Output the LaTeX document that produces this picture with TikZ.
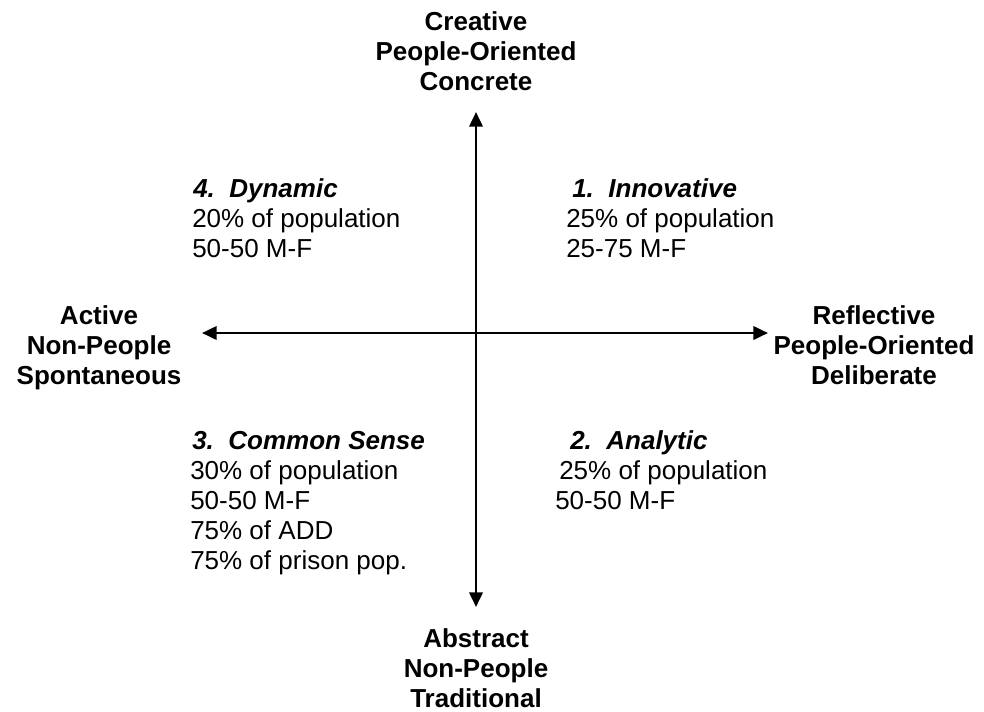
\documentclass[tikz,border=0pt]{standalone}
\usepackage{fontspec}
\setmainfont{Liberation Sans}
\usetikzlibrary{arrows.meta}
\tikzstyle{pole}=[align=center,anchor=base,inner sep=0pt,font=\bfseries\fontsize{19.5}{22.5}\selectfont]
\tikzstyle{quad title}=[anchor=base west,inner sep=0pt,font=\bfseries\itshape\fontsize{19.5}{22.5}\selectfont]
\tikzstyle{quad text}=[anchor=base west,align=left,inner sep=0pt,font=\fontsize{19.5}{22.5}\selectfont]
\tikzstyle{axis}=[line width=2pt,{Triangle[length=11pt,width=10pt]}-{Triangle[length=11pt,width=10pt]}]

\begin{document}
\begin{tikzpicture}[x=0.75pt,y=-0.75pt]
\useasboundingbox (0,0) rectangle (984,711);
% axis ends
\coordinate (n) at (476,112);
\coordinate (s) at (476,607);
\coordinate (w) at (202,333);
\coordinate (e) at (768,333);
\draw[axis] (s) -- (n);
\draw[axis] (w) -- (e);
% the four poles (base = last line)
\node[pole] (creative) at (476,90) {Creative\\People-Oriented\\Concrete};
\node[pole] (abstract) at (476,707) {Abstract\\Non-People\\Traditional};
\node[pole] (active) at (99,384) {Active\\Non-People\\Spontaneous};
\node[pole] (reflective) at (874,384) {Reflective\\People-Oriented\\Deliberate};
% quadrants
\node[quad title] (dynamic) at (193,197) {4.\ \ Dynamic};
\node[quad text] (dynamicpop) at (192,257) {20\% of population\\50-50 M-F};
\node[quad title] (innovative) at (572,197) {1.\ \ Innovative};
\node[quad text] (innovativepop) at (566,257) {25\% of population\\25-75 M-F};
\node[quad title] (common) at (192,449) {3.\ \ Common Sense};
\node[quad text] (commonpop) at (190,569) {30\% of population\\50-50 M-F\\75\% of ADD\\75\% of prison pop.};
\node[quad title] (analytic) at (570,449) {2.\ \ Analytic};
\node[quad text] (analyticpop) at (559,479) {25\% of population};
\node[quad text] (analyticmf) at (555,509) {50-50 M-F};
\end{tikzpicture}
\end{document}
